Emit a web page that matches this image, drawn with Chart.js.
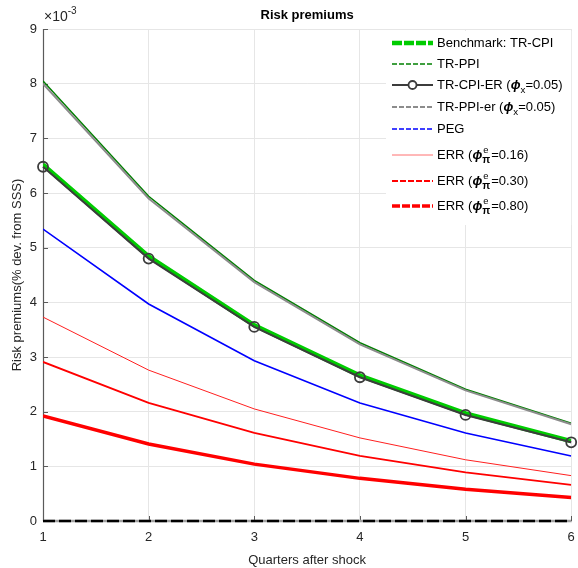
<!DOCTYPE html>
<html><head><meta charset="utf-8">
<script src="https://cdn.jsdelivr.net/npm/chart.js@4"></script>
<style>html,body{margin:0;padding:0;background:#fff}#wrap{width:578px;height:568px}</style>
</head><body><div id="wrap"><canvas id="c" width="578" height="568"></canvas></div>
<script>
const quarters = [1, 2, 3, 4, 5, 6];
const benchmarkTRCPI = [6.52, 4.84, 3.58, 2.66, 1.97, 1.46];
const trPPI = [8.05, 5.94, 4.40, 3.26, 2.41, 1.79];
const trCPIER = [6.48, 4.80, 3.55, 2.63, 1.94, 1.44];
const trPPIer = [8.00, 5.90, 4.37, 3.23, 2.39, 1.77];
const peg = [5.34, 3.97, 2.93, 2.16, 1.61, 1.19];
const err016 = [3.73, 2.76, 2.05, 1.52, 1.12, 0.83];
const err030 = [2.91, 2.16, 1.61, 1.19, 0.89, 0.66];
const err080 = [1.92, 1.41, 1.04, 0.78, 0.58, 0.43];
const zeroLine = [0, 0, 0, 0, 0, 0];
const yTicks = [0, 1, 2, 3, 4, 5, 6, 7, 8, 9];
const xTicks = [1, 2, 3, 4, 5, 6];

const FONT = '"Liberation Sans", Arial, Helvetica, sans-serif';
const TXT = '#262626';
const pts = arr => arr.map((v, i) => ({x: quarters[i], y: v}));

const legendLabels = [
  [{t:'Benchmark: TR-CPI'}],
  [{t:'TR-PPI'}],
  [{t:'TR-CPI-ER ('},{t:'\u03d5',b:1,i:1},{t:'x',sub:1},{t:'=0.05)'}],
  [{t:'TR-PPI-er ('},{t:'\u03d5',b:1,i:1},{t:'x',sub:1},{t:'=0.05)'}],
  [{t:'PEG'}],
  [{t:'ERR ('},{t:'\u03d5',b:1,i:1},{st:'e',sb:'\u03c0'},{t:'=0.16)'}],
  [{t:'ERR ('},{t:'\u03d5',b:1,i:1},{st:'e',sb:'\u03c0'},{t:'=0.30)'}],
  [{t:'ERR ('},{t:'\u03d5',b:1,i:1},{st:'e',sb:'\u03c0'},{t:'=0.80)'}]
];

const datasets = [
  {data: pts(zeroLine), borderColor:'#a0a0a0', borderWidth:2.4, pointRadius:0, order:20, clip:false},
  {data: pts(zeroLine), borderColor:'#000000', borderWidth:2.4, borderDash:[12,4], pointRadius:0, order:19, clip:false},
  {label:'Benchmark', data: pts(benchmarkTRCPI), borderColor:'rgb(0,204,0)', borderWidth:4.5, legendDash:[10,2], pointRadius:0, order:18},
  {label:'TR-PPI', data: pts(trPPI), borderColor:'rgb(0,128,0)', borderWidth:1.6, legendDash:[5,2], pointRadius:0, order:17},
  {label:'TR-CPI-ER', data: pts(trCPIER), borderColor:'#3c3c3c', borderWidth:2, pointRadius:5, pointBorderWidth:1.8, pointBackgroundColor:'rgba(0,0,0,0)', pointBorderColor:'#3c3c3c', order:16, clip:false},
  {label:'TR-PPI-er', data: pts(trPPIer), borderColor:'#8c8c8c', borderWidth:2, legendDash:[5,2], pointRadius:0, order:15},
  {label:'PEG', data: pts(peg), borderColor:'#0000ff', borderWidth:1.6, legendDash:[5,2], pointRadius:0, order:14},
  {label:'ERR 0.16', data: pts(err016), borderColor:'#ff2020', legendColor:'#ff7070', borderWidth:1, pointRadius:0, order:13},
  {label:'ERR 0.30', data: pts(err030), borderColor:'#ff0000', borderWidth:1.8, legendDash:[6,2], pointRadius:0, order:12},
  {label:'ERR 0.80', data: pts(err080), borderColor:'#ff0000', borderWidth:3.5, legendDash:[8,2], pointRadius:0, order:11}
];
datasets.forEach(d => { d.fill = false; d.tension = 0; });

function drawRich(ctx, segs, x, y, size, color) {
  ctx.fillStyle = color; ctx.textBaseline = 'middle'; ctx.textAlign = 'left';
  segs.forEach(s => {
    if (s.st !== undefined) {
      ctx.font = `${size*0.72}px ${FONT}`; const a = ctx.measureText(s.st).width;
      ctx.fillText(s.st, x + 1, y - 5);
      ctx.font = `bold ${size*0.8}px ${FONT}`; const b = ctx.measureText(s.sb).width;
      ctx.fillText(s.sb, x, y + 5);
      x += Math.max(a, b) + 1;
    } else if (s.sub) {
      ctx.font = `${size*0.75}px ${FONT}`;
      ctx.fillText(s.t, x, y + 5);
      x += ctx.measureText(s.t).width;
    } else {
      ctx.font = `${s.i?'italic ':''}${s.b?'bold ':''}${size}px ${FONT}`;
      ctx.fillText(s.t, x, y);
      x += ctx.measureText(s.t).width;
    }
  });
}

const decor = {
  id: 'decor',
  beforeDatasetsDraw(chart) {
    const ctx = chart.ctx, a = chart.chartArea;
    const xs = chart.scales.x, ys = chart.scales.y;
    ctx.save();
    ctx.strokeStyle = '#5a5a5a'; ctx.lineWidth = 1.2; ctx.setLineDash([]);
    ctx.beginPath(); ctx.moveTo(a.left + 0.5, a.top); ctx.lineTo(a.left + 0.5, a.bottom); ctx.stroke();
    ctx.lineWidth = 1;
    yTicks.forEach(v => { const p = Math.round(ys.getPixelForValue(v)) + 0.5; ctx.beginPath(); ctx.moveTo(a.left, p); ctx.lineTo(a.left + 5, p); ctx.stroke(); });
    xTicks.forEach(v => { const p = Math.round(xs.getPixelForValue(v)) + 0.5; ctx.beginPath(); ctx.moveTo(p, a.bottom); ctx.lineTo(p, a.bottom - 5); ctx.stroke(); });
    ctx.restore();
  },
  afterDraw(chart) {
    const ctx = chart.ctx, a = chart.chartArea;
    ctx.save();
    ctx.fillStyle = '#000'; ctx.font = `bold 13px ${FONT}`; ctx.textAlign = 'center'; ctx.textBaseline = 'middle';
    ctx.fillText('Risk premiums', (a.left + a.right) / 2, 15);
    ctx.fillStyle = TXT; ctx.textAlign = 'left'; ctx.font = `14px ${FONT}`;
    ctx.fillText('\u00d710', a.left + 1, 17);
    const w = ctx.measureText('\u00d710').width;
    ctx.font = `10px ${FONT}`; ctx.fillText('-3', a.left + 1 + w, 11);
    ctx.font = `13px ${FONT}`; ctx.textAlign = 'center';
    ctx.fillText('Quarters after shock', (a.left + a.right) / 2, 560);
    ctx.save(); ctx.translate(17, (a.top + a.bottom) / 2); ctx.rotate(-Math.PI / 2);
    ctx.fillText('Risk premiums(% dev. from SSS)', 0, 0); ctx.restore();
    // legend
    const lx = 386, ly = 31, lw = a.right - lx, lh = 194;
    ctx.fillStyle = '#fff'; ctx.fillRect(lx, ly, lw, lh);
    const rows = [43, 64, 85, 107, 129, 155, 181, 206];
    const items = datasets.filter(d => d.label);
    items.forEach((d, i) => {
      const y = rows[i];
      ctx.save();
      ctx.strokeStyle = d.legendColor || d.borderColor; ctx.lineWidth = d.borderWidth; ctx.setLineDash(d.legendDash || []);
      ctx.beginPath(); ctx.moveTo(392, y); ctx.lineTo(433, y); ctx.stroke();
      if (d.pointRadius) {
        ctx.setLineDash([]); ctx.lineWidth = d.pointBorderWidth; ctx.strokeStyle = d.pointBorderColor;
        ctx.fillStyle = '#fff';
        ctx.beginPath(); ctx.arc(412.5, y, 4, 0, Math.PI * 2); ctx.fill(); ctx.stroke();
      }
      ctx.restore();
      drawRich(ctx, legendLabels[i], 437, y, 13, '#000');
    });
    ctx.restore();
  }
};

new Chart(document.getElementById('c'), {
  type: 'line',
  data: { datasets },
  options: {
    responsive: false, animation: false, devicePixelRatio: 1,
    layout: { padding: { top: 29, right: 6, left: 0, bottom: 0 } },
    plugins: { legend: { display: false }, title: { display: false }, tooltip: { enabled: false } },
    scales: {
      x: {
        type: 'linear', min: 1, max: 6,
        afterFit: s => { s.height = 47; s.paddingRight = 0; s.paddingLeft = 0; },
        afterBuildTicks: s => { s.ticks = xTicks.map(v => ({value: v})); },
        grid: { color: '#e6e6e6', lineWidth: 1, drawTicks: false },
        border: { display: false },
        ticks: { padding: 9, color: TXT, font: { size: 13, family: FONT }, maxRotation: 0, callback: v => String(v) }
      },
      y: {
        type: 'linear', min: 0, max: 9,
        afterFit: s => { s.width = 43; s.paddingTop = 0; s.paddingBottom = 0; },
        afterBuildTicks: s => { s.ticks = yTicks.map(v => ({value: v})); },
        grid: { color: '#e6e6e6', lineWidth: 1, drawTicks: false },
        border: { display: false },
        ticks: { padding: 6, color: TXT, font: { size: 13, family: FONT }, callback: v => String(v) }
      }
    }
  },
  plugins: [decor]
});
</script></body></html>
